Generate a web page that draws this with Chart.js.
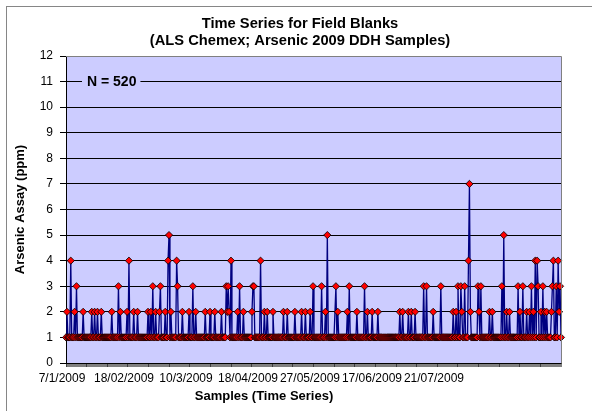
<!DOCTYPE html>
<html><head><meta charset="utf-8">
<script src="https://cdn.jsdelivr.net/npm/chart.js@4/dist/chart.umd.min.js"></script>
<style>html,body{margin:0;padding:0;background:#fff;}canvas{display:block;}</style>
</head><body>
<canvas id="c" width="592" height="411"></canvas>
<script>
const titleLines = ['Time Series for Field Blanks', '(ALS Chemex; Arsenic 2009 DDH Samples)'];
const xAxisTitle = 'Samples (Time Series)';
const yAxisTitle = 'Arsenic Assay (ppm)';
const noteText = 'N = 520';
const tickLabels = ['7/1/2009', '18/02/2009', '10/3/2009', '18/04/2009', '27/05/2009', '17/06/2009', '21/07/2009'];
const tickIndices = [0, 65, 130, 195, 260, 325, 390];
const yTickValues = [0,1,2,3,4,5,6,7,8,9,10,11,12];
const arsenicPpm = [
1,2,1,1,1,4,1,1,1,2,1,3,1,1,1,1,1,1,2,1,
1,1,1,1,1,1,1,2,1,1,2,1,1,2,1,1,1,2,1,1,
1,1,1,1,1,1,1,1,2,1,1,1,1,1,1,3,1,2,1,1,
1,1,1,1,2,1,4,1,1,1,1,2,1,1,1,2,1,1,1,1,
1,1,1,1,1,1,2,1,1,2,1,3,1,1,2,1,1,1,2,3,
1,1,1,1,2,1,1,4,5,1,2,1,1,1,1,1,4,3,1,1,
1,1,2,1,1,1,1,1,1,2,1,1,1,3,1,1,2,1,1,1,
1,1,1,1,1,1,2,1,1,1,1,2,1,1,1,1,2,1,1,1,
1,1,1,2,1,1,1,1,3,2,3,2,1,4,1,1,1,1,1,1,
2,1,3,1,1,1,2,1,1,1,1,1,1,1,1,2,3,3,1,1,
1,1,1,1,4,1,1,1,2,1,1,2,1,1,1,1,1,2,1,1,
1,1,1,1,1,1,1,1,2,1,1,1,2,1,1,1,1,1,1,1,
2,1,1,1,1,1,1,2,1,1,1,2,1,1,1,1,2,1,1,3,
1,1,1,1,1,1,1,1,3,1,1,1,2,1,5,1,1,1,1,1,
1,1,1,3,1,2,1,1,1,1,1,1,1,1,1,2,1,3,1,1,
1,1,1,1,1,2,1,1,1,1,1,1,1,3,1,1,2,1,1,1,
1,2,1,1,1,1,1,2,1,1,1,1,1,1,1,1,1,1,1,1,
1,1,1,1,1,1,1,1,1,1,2,1,1,2,1,1,1,1,1,2,
1,1,2,1,1,1,2,1,1,1,1,1,1,1,1,3,1,1,3,1,
1,1,1,1,1,2,1,1,1,1,1,1,1,3,1,1,1,1,1,1,
1,1,1,1,1,1,2,1,1,2,1,3,1,1,3,2,1,1,3,1,
1,1,4,7,2,1,1,1,1,1,1,1,3,2,1,3,1,1,1,1,
1,1,1,1,2,1,1,2,1,1,1,1,1,1,1,1,1,3,1,5,
1,1,2,1,1,2,1,1,1,1,1,1,1,1,3,1,2,1,1,3,
1,1,1,2,1,1,2,1,3,1,2,1,4,1,4,3,1,1,2,1,
3,1,2,1,2,1,1,1,1,2,3,4,1,1,3,1,4,2,3,1
];
const categories = arsenicPpm.map((v, i) => {
  const k = tickIndices.indexOf(i);
  return k >= 0 ? tickLabels[k] : '';
});

const FONT = 'Liberation Sans, Arial, Helvetica, sans-serif';

const decor = {
  id: 'decor',
  beforeDraw(chart) {
    const ctx = chart.ctx, a = chart.chartArea;
    ctx.save();
    ctx.fillStyle = '#ffffff';
    ctx.fillRect(0, 0, chart.width, chart.height);
    ctx.strokeStyle = '#868686';
    ctx.lineWidth = 1;
    ctx.strokeRect(6.5, 6.5, chart.width + 20, chart.height + 20);
    ctx.fillStyle = '#CCCCFF';
    ctx.fillRect(a.left, a.top, a.right - a.left, a.bottom - a.top);
    ctx.restore();
  },
  afterDraw(chart) {
    const ctx = chart.ctx, a = chart.chartArea;
    const ys = chart.scales.y;
    ctx.save();
    ctx.strokeStyle = '#808080';
    ctx.lineWidth = 1;
    ctx.beginPath();
    ctx.moveTo(a.left, a.top + 0.5); ctx.lineTo(a.right + 0.5, a.top + 0.5);
    ctx.lineTo(a.right + 0.5, a.bottom);
    ctx.stroke();
    ctx.fillStyle = '#000';
    ctx.textAlign = 'center';
    ctx.textBaseline = 'middle';
    ctx.font = 'bold 14.7px ' + FONT;
    ctx.fillText(titleLines[0], 300, 24);
    ctx.fillText(titleLines[1], 300, 41);
    ctx.font = 'bold 13px ' + FONT;
    ctx.fillText(xAxisTitle, a.left + (a.right - a.left) * 0.40, 396);
    ctx.save();
    ctx.translate(20, (a.top + a.bottom) / 2);
    ctx.rotate(-Math.PI / 2);
    ctx.fillText(yAxisTitle, 0, 0);
    ctx.restore();
    ctx.font = 'bold 14px ' + FONT;
    const ny = ys.getPixelForValue(11);
    const tw = ctx.measureText(noteText).width;
    const nx = a.left + 21;
    ctx.fillStyle = '#CCCCFF';
    ctx.fillRect(nx - 5, ny - 8, tw + 9, 16);
    ctx.fillStyle = '#000';
    ctx.textAlign = 'left';
    ctx.fillText(noteText, nx, ny + 1);
    ctx.restore();
  }
};

new Chart(document.getElementById('c'), {
  type: 'line',
  data: {
    labels: categories,
    datasets: [{
      data: arsenicPpm,
      borderColor: '#000080',
      borderWidth: 1.3,
      tension: 0,
      pointStyle: 'rectRot',
      pointRadius: 3.6,
      pointBackgroundColor: '#FF0000',
      pointBorderColor: '#000000',
      pointBorderWidth: 0.8,
      clip: 8
    }]
  },
  options: {
    responsive: false,
    animation: false,
    events: [],
    layout: { padding: { top: 56, left: 0, right: 31, bottom: 0 } },
    plugins: { legend: { display: false }, tooltip: { enabled: false }, title: { display: false } },
    scales: {
      x: {
        type: 'category',
        offset: false,
        grid: { display: true, drawOnChartArea: false, drawTicks: true, tickLength: 4, color: '#000', lineWidth: 0.5 },
        border: { display: true, color: '#000', width: 1 },
        ticks: { autoSkip: false, maxRotation: 0, minRotation: 0, labelOffset: -4, padding: 4, color: '#000',
                 font: { family: FONT, size: 12 } },
        afterFit(s) { s.height = 411 - 363; }
      },
      y: {
        min: 0, max: 12,
        afterBuildTicks(s) { s.ticks = yTickValues.map(v => ({ value: v })); },
        ticks: { padding: 7, color: '#000', font: { family: FONT, size: 12 } },
        grid: { color: '#000', lineWidth: 1, tickLength: 6, drawTicks: true },
        border: { display: true, color: '#000', width: 1 },
        afterFit(s) { s.width = 66; }
      }
    }
  },
  plugins: [decor]
});
</script>
</body></html>
